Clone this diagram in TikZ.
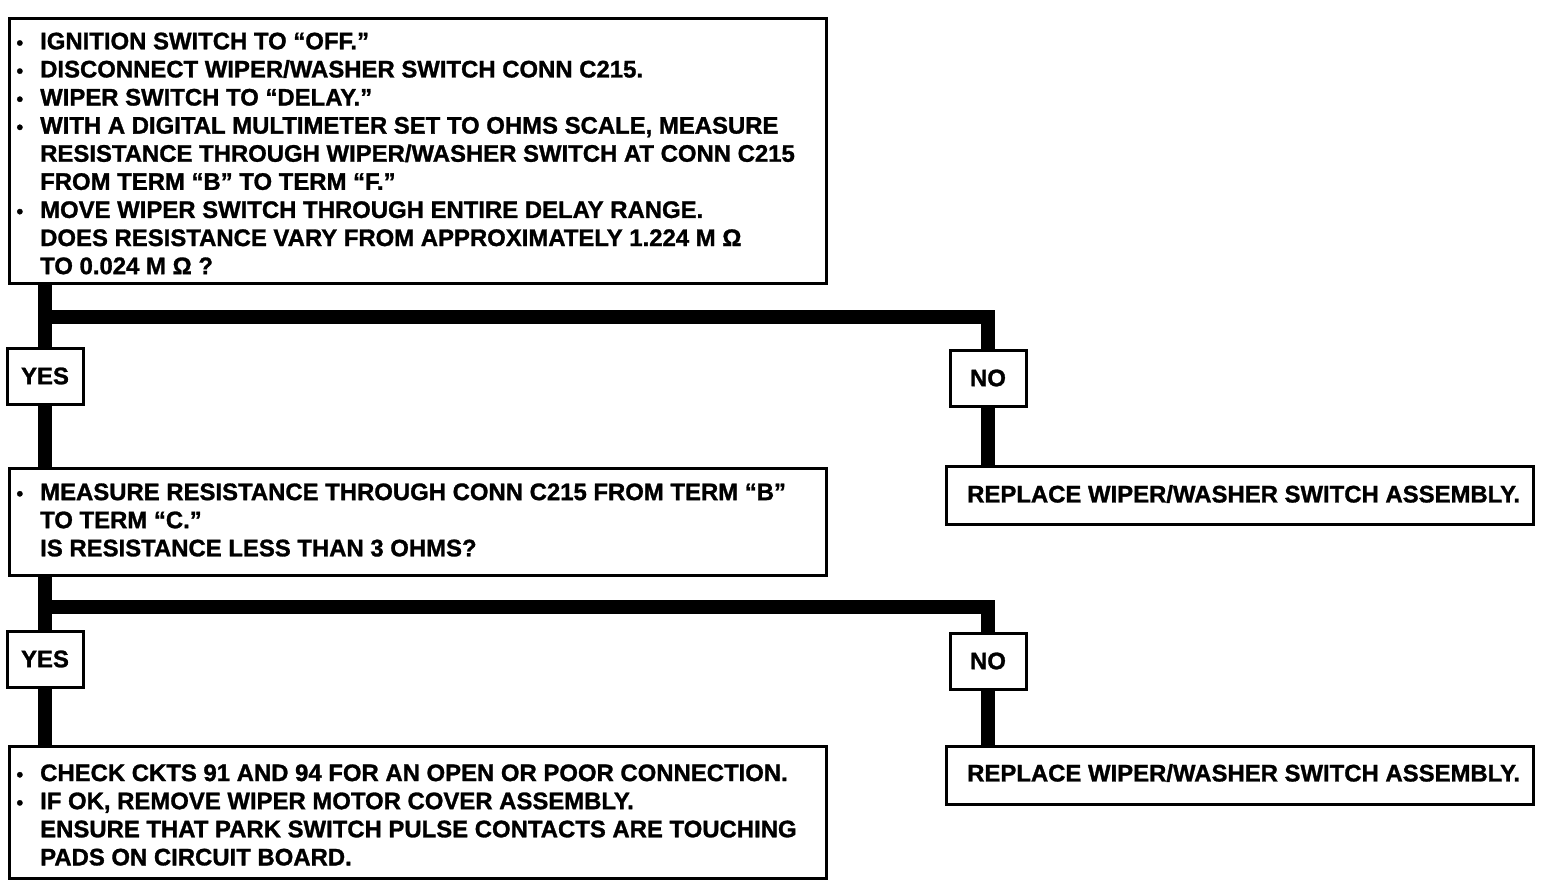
\documentclass[tikz,border=0pt]{standalone}
\usepackage{fontspec}
\setmainfont{Liberation Sans}[BoldFeatures={FakeBold=1.2}]
\begin{document}
\begin{tikzpicture}[x=1pt,y=-1pt,
  box/.style={draw,line width=3pt,fill=white,inner sep=0pt},
  lbl/.style={box,minimum width=76pt,minimum height=56pt,font=\fontsize{23.9}{28.1}\selectfont\bfseries},
  txt/.style={anchor=west,inner sep=0pt,align=left,font=\fontsize{23.9}{28.1}\selectfont\bfseries},
  conn/.style={line width=14pt,line cap=butt,line join=miter}]
\useasboundingbox (0,0) rectangle (1552,888);
\newcommand{\bul}{\llap{\scalebox{0.8}{•}\hspace{17pt}}}
% boxes
\node[box,minimum width=817pt,minimum height=264pt] (box1) at (418,151) {};
\node[box,minimum width=817pt,minimum height=107pt] (box2) at (418,522) {};
\node[box,minimum width=817pt,minimum height=132pt] (box3) at (418,812.5) {};
\node[box,minimum width=587pt,minimum height=58pt] (rep1) at (1240,495.5) {};
\node[box,minimum width=587pt,minimum height=58pt] (rep2) at (1240,775) {};
\node[lbl] (yes1) at (45,376) {YES};
\node[lbl] (yes2) at (45,659) {YES};
\node[lbl] (no1) at (988,378) {NO};
\node[lbl] (no2) at (988,661) {NO};
\coordinate (bar1) at (0,317);
\coordinate (bar2) at (0,607);
% texts
\node[txt] (t1) at (40,153.5) {\bul IGNITION SWITCH TO “OFF.”\\
\bul DISCONNECT WIPER/WASHER SWITCH CONN C215.\\
\bul WIPER SWITCH TO “DELAY.”\\
\bul WITH A DIGITAL MULTIMETER SET TO OHMS SCALE, MEASURE\\
RESISTANCE THROUGH WIPER/WASHER SWITCH AT CONN C215\\
FROM TERM “B” TO TERM “F.”\\
\bul MOVE WIPER SWITCH THROUGH ENTIRE DELAY RANGE.\\
DOES RESISTANCE VARY FROM APPROXIMATELY 1.224 M Ω\\
TO 0.024 M Ω ?};
\node[txt] (t2) at (40,520) {\bul MEASURE RESISTANCE THROUGH CONN C215 FROM TERM “B”\\
TO TERM “C.”\\
IS RESISTANCE LESS THAN 3 OHMS?};
\node[txt] (t3) at (40,815) {\bul CHECK CKTS 91 AND 94 FOR AN OPEN OR POOR CONNECTION.\\
\bul IF OK, REMOVE WIPER MOTOR COVER ASSEMBLY.\\
ENSURE THAT PARK SWITCH PULSE CONTACTS ARE TOUCHING\\
PADS ON CIRCUIT BOARD.};
\node[txt] (t4) at (967,494) {REPLACE WIPER/WASHER SWITCH ASSEMBLY.};
\node[txt] (t5) at (967,773) {REPLACE WIPER/WASHER SWITCH ASSEMBLY.};
% connectors
\draw[conn] (yes1.north |- box1.south) -- (yes1.north);
\draw[conn] (yes1.south) -- (yes1.south |- box2.north);
\draw[conn] (yes1 |- bar1) -- (no1 |- bar1) -- (no1.north);
\draw[conn] (no1.south) -- (no1.south |- rep1.north);
\draw[conn] (yes2.north |- box2.south) -- (yes2.north);
\draw[conn] (yes2.south) -- (yes2.south |- box3.north);
\draw[conn] (yes2 |- bar2) -- (no2 |- bar2) -- (no2.north);
\draw[conn] (no2.south) -- (no2.south |- rep2.north);
\end{tikzpicture}
\end{document}
